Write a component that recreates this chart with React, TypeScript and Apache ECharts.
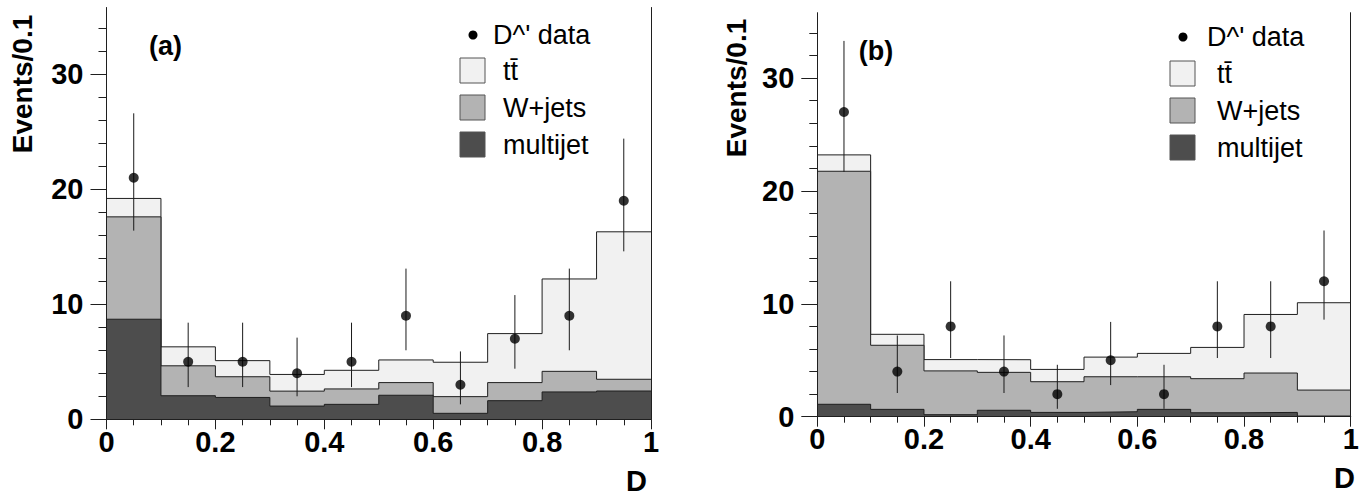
import React, { useEffect, useRef } from "react";
import * as echarts from "echarts";

// ---------- data ----------
const binEdges = [0, 0.1, 0.2, 0.3, 0.4, 0.5, 0.6, 0.7, 0.8, 0.9, 1.0];
const binCenters = [0.05, 0.15, 0.25, 0.35, 0.45, 0.55, 0.65, 0.75, 0.85, 0.95];
const xTickLabels = [0, 0.2, 0.4, 0.6, 0.8, 1];
const yMajorTicks = [0, 10, 20, 30];
const yMinorTicks = [2, 4, 6, 8, 12, 14, 16, 18, 22, 24, 26, 28, 32, 34];

// panel (a)
const multijetA = [8.7, 2.05, 1.9, 1.15, 1.3, 2.09, 0.52, 1.62, 2.38, 2.46];
const wjetsA = [8.9, 2.6, 1.8, 1.3, 1.34, 1.1, 1.45, 1.57, 1.79, 1.02];
const ttbarA = [1.6, 1.65, 1.4, 1.45, 1.62, 1.97, 2.99, 4.26, 8.03, 12.82];
const countsA = [21, 5, 5, 4, 5, 9, 3, 7, 9, 19];
const errLowA = [16.4, 2.8, 2.8, 2.0, 2.8, 6.0, 1.3, 4.4, 6.0, 14.6];
const errHighA = [26.6, 8.4, 8.4, 7.1, 8.4, 13.1, 5.9, 10.8, 13.1, 24.4];

// panel (b)
const multijetB = [1.1, 0.65, 0.18, 0.57, 0.38, 0.44, 0.65, 0.35, 0.38, 0.06];
const wjetsB = [20.65, 5.68, 3.88, 3.36, 2.72, 3.1, 2.89, 3.02, 3.49, 2.3];
const ttbarB = [1.45, 0.97, 1.0, 1.12, 1.09, 1.74, 2.07, 2.77, 5.19, 7.74];
const countsB = [27, 4, 8, 4, 2, 5, 2, 8, 8, 12];
const errLowB = [21.7, 2.1, 5.2, 2.1, 0.7, 2.8, 0.7, 5.2, 5.2, 8.6];
const errHighB = [33.3, 7.2, 12.0, 7.2, 4.6, 8.4, 4.6, 12.0, 12.0, 16.5];

const legendNames = ["D^' data", "tt\u0304", "W+jets", "multijet"];
const panelLabels = ["(a)", "(b)"];
const yTitle = "Events/0.1";
const xTitle = "D";
const yMax = 35.8;

// ---------- styles ----------
const FONT = '"Liberation Sans", Arial, Helvetica, sans-serif';
const C_TT = "#f1f1f1";
const C_W = "#b3b3b3";
const C_MJ = "#4d4d4d";
const C_LINE = "#1f1f1f";

const panels = [
  {
    mj: multijetA, w: wjetsA, tt: ttbarA,
    counts: countsA, lo: errLowA, hi: errHighA,
    grid: { left: 106.5, top: 7.5, right: 713, bottom: 75.7 },
    label: { x: 165.5, y: 46 },
    yTitlePos: { x: 22.5, y: 84 },
    xTitlePos: { x: 647, y: 480.5 },
    legend: { bulletX: 473, bulletY: 35, boxX: 460, boxY: 58, textX: 503 },
  },
  {
    mj: multijetB, w: wjetsB, tt: ttbarB,
    counts: countsB, lo: errLowB, hi: errHighB,
    grid: { left: 817.3, top: 12.7, right: 13.3, bottom: 78.3 },
    label: { x: 876, y: 51 },
    yTitlePos: { x: 736, y: 88 },
    xTitlePos: { x: 1355, y: 478 },
    legend: { bulletX: 1183, bulletY: 37, boxX: 1170, boxY: 61, textX: 1217 },
  },
];

function stepData(vals: number[]) {
  return binEdges.map((e, i) => [e, vals[Math.min(i, vals.length - 1)]]);
}

function buildOption() {
  const grid: any[] = [];
  const xAxis: any[] = [];
  const yAxis: any[] = [];
  const series: any[] = [];
  const graphic: any[] = [];

  panels.forEach((p, pi) => {
    grid.push({ ...p.grid, containLabel: false });
    const xMain = xAxis.length;
    xAxis.push({
      type: "value", gridIndex: pi, min: 0, max: 1, interval: 0.2, position: "bottom", z: 10,
      axisLine: { show: true, lineStyle: { color: C_LINE, width: 1 } },
      axisTick: { show: true, length: 10, lineStyle: { color: C_LINE } },
      minorTick: { show: true, splitNumber: 4, length: 6, lineStyle: { color: C_LINE } },
      splitLine: { show: false },
      axisLabel: {
        show: true, margin: 8, fontSize: 29, fontWeight: "bold", fontFamily: FONT, color: "#000",
        customValues: xTickLabels,
      },
    });
    xAxis.push({
      type: "value", gridIndex: pi, min: 0, max: 1, position: "top", z: 10,
      axisLine: { show: true, lineStyle: { color: C_LINE, width: 1 } },
      axisTick: { show: false }, axisLabel: { show: false }, splitLine: { show: false },
    });
    const yMain = yAxis.length;
    yAxis.push({
      type: "value", gridIndex: pi, min: 0, max: yMax, interval: 10, position: "left", z: 10,
      axisLine: { show: true, lineStyle: { color: C_LINE, width: 1 } },
      axisTick: { show: true, length: 16, customValues: yMajorTicks, lineStyle: { color: C_LINE } },
      splitLine: { show: false },
      axisLabel: {
        show: true, margin: 23, fontSize: 29, fontWeight: "bold", fontFamily: FONT, color: "#000",
        customValues: yMajorTicks,
      },
    });
    yAxis.push({
      type: "value", gridIndex: pi, min: 0, max: yMax, interval: 10, position: "left", z: 10,
      axisLine: { show: false },
      axisTick: { show: true, length: 8, customValues: yMinorTicks, lineStyle: { color: C_LINE } },
      axisLabel: { show: false }, splitLine: { show: false },
    });
    yAxis.push({
      type: "value", gridIndex: pi, min: 0, max: yMax, position: "right", z: 10,
      axisLine: { show: true, lineStyle: { color: C_LINE, width: 1 } },
      axisTick: { show: false }, axisLabel: { show: false }, splitLine: { show: false },
    });

    const cumW = p.mj.map((v, i) => v + p.w[i]);
    const cumT = cumW.map((v, i) => v + p.tt[i]);
    const layers = [
      { name: "tt", vals: cumT, color: C_TT },
      { name: "W+jets", vals: cumW, color: C_W },
      { name: "multijet", vals: p.mj, color: C_MJ },
    ];
    layers.forEach((l, li) => {
      series.push({
        type: "line", name: l.name, xAxisIndex: xMain, yAxisIndex: yMain,
        step: "end", symbol: "none", z: 2 + li * 0.1,
        data: stepData(l.vals),
        lineStyle: { color: C_LINE, width: 1 },
        areaStyle: { color: l.color, opacity: 1, origin: "start" },
        silent: true,
      });
    });
    series.push({
      type: "custom", name: "err", xAxisIndex: xMain, yAxisIndex: yMain, z: 3,
      data: binCenters.map((x, i) => [x, p.lo[i], p.hi[i]]),
      encode: { x: 0, y: [1, 2] },
      renderItem: (params: any, api: any) => {
        const a = api.coord([api.value(0), api.value(1)]);
        const b = api.coord([api.value(0), api.value(2)]);
        return {
          type: "line",
          shape: { x1: a[0], y1: a[1], x2: b[0], y2: b[1] },
          style: { stroke: "#1a1a1a", lineWidth: 1 },
        };
      },
      silent: true,
    });
    series.push({
      type: "scatter", name: "data", xAxisIndex: xMain, yAxisIndex: yMain, z: 4,
      symbol: "circle", symbolSize: 10,
      itemStyle: { color: "#000" },
      data: binCenters.map((x, i) => [x, p.counts[i]]),
      silent: true,
    });

    // texts
    graphic.push({
      type: "text", x: p.label.x, y: p.label.y, z: 20,
      style: { text: panelLabels[pi], font: `bold 27px ${FONT}`, fill: "#000", align: "center", verticalAlign: "middle" },
    });
    graphic.push({
      type: "text", x: p.yTitlePos.x, y: p.yTitlePos.y, rotation: Math.PI / 2, z: 20,
      style: { text: yTitle, font: `bold 28px ${FONT}`, fill: "#000", align: "center", verticalAlign: "middle" },
    });
    graphic.push({
      type: "text", x: p.xTitlePos.x, y: p.xTitlePos.y, z: 20,
      style: { text: xTitle, font: `bold 29px ${FONT}`, fill: "#000", align: "right", verticalAlign: "middle" },
    });
    // legend
    const L = p.legend;
    graphic.push({
      type: "circle", z: 20, shape: { cx: L.bulletX, cy: L.bulletY, r: 4.5 }, style: { fill: "#000" },
    });
    graphic.push({
      type: "text", x: L.textX - 10, y: L.bulletY, z: 20,
      style: { text: legendNames[0], font: `27px ${FONT}`, fill: "#000", align: "left", verticalAlign: "middle" },
    });
    const boxColors = [C_TT, C_W, C_MJ];
    boxColors.forEach((c, bi) => {
      const y = L.boxY + bi * 37;
      graphic.push({
        type: "rect", z: 20, shape: { x: L.boxX, y, width: 25, height: 25 },
        style: { fill: c, stroke: "#555", lineWidth: 1 },
      });
      graphic.push({
        type: "text", x: L.textX, y: y + 13, z: 20,
        style: { text: legendNames[bi + 1], font: `27px ${FONT}`, fill: "#000", align: "left", verticalAlign: "middle" },
      });
    });
  });

  return {
    animation: false,
    backgroundColor: "#fff",
    grid, xAxis, yAxis, series, graphic,
  };
}

export default function App() {
  const ref = useRef<HTMLDivElement>(null);
  useEffect(() => {
    if (!ref.current) return;
    const chart = echarts.init(ref.current, undefined, { renderer: "svg" });
    chart.setOption(buildOption() as any);
    return () => chart.dispose();
  }, []);
  return (
    <div
      ref={ref}
      style={{ position: "absolute", left: 0, top: 0, width: 1364, height: 495, background: "#fff" }}
    />
  );
}
